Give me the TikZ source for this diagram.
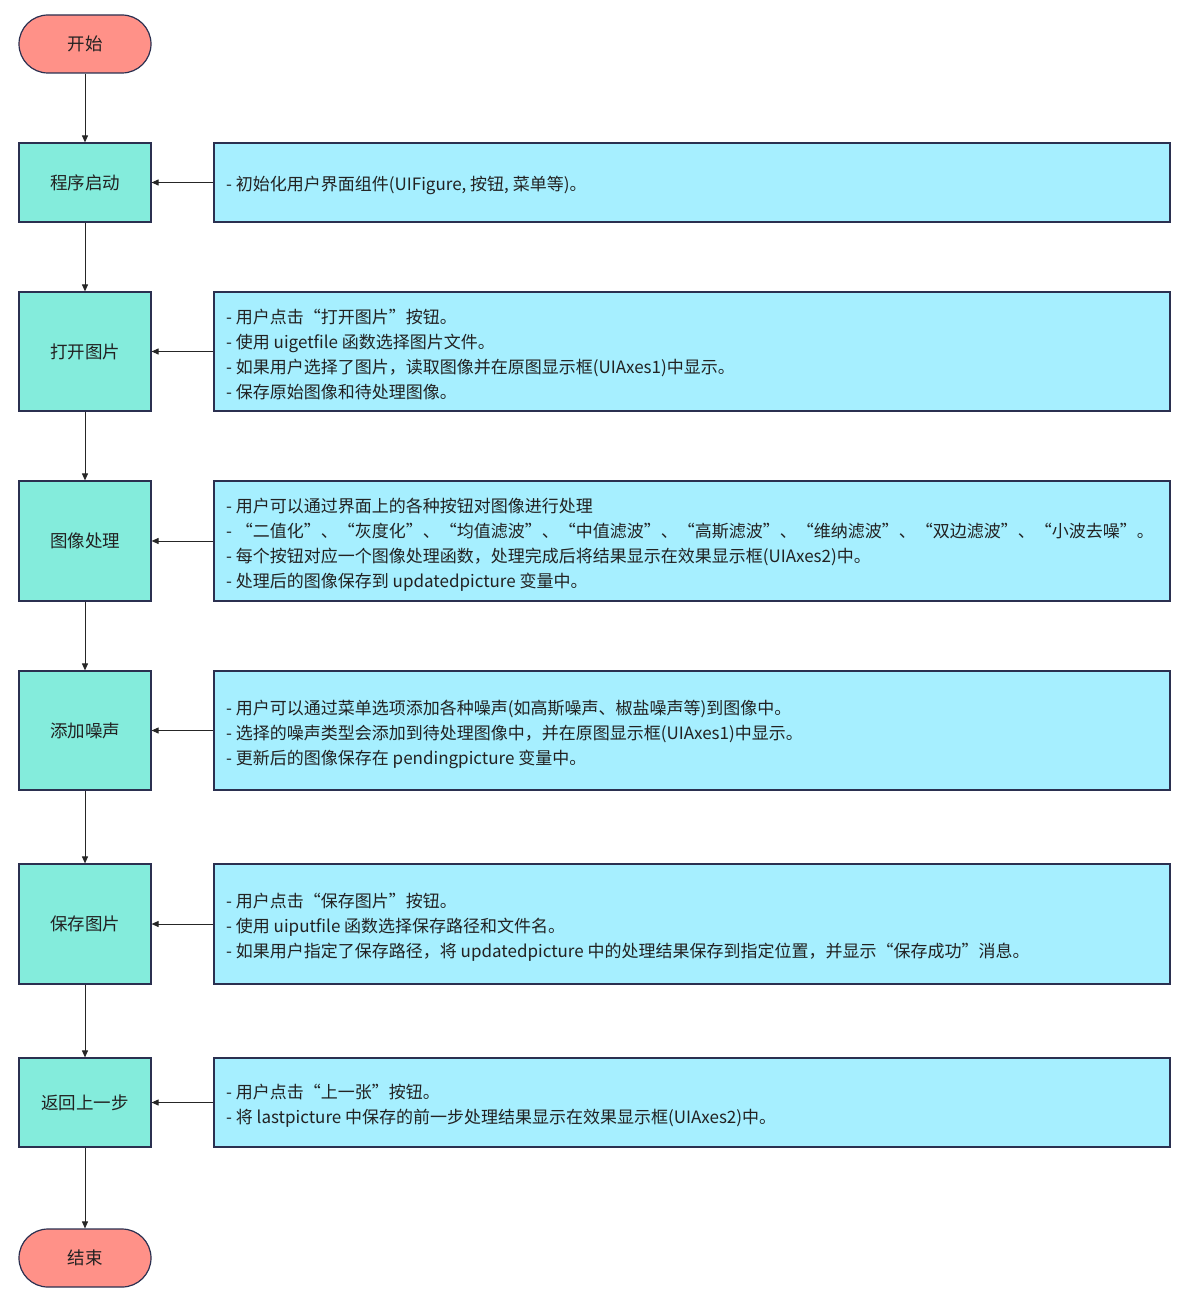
\documentclass[tikz,border=0pt]{standalone}
\usepackage{fontspec}
\setmainfont{Noto Sans CJK SC}
\usetikzlibrary{arrows.meta}
\definecolor{termfill}{HTML}{FF9188}
\definecolor{stepfill}{HTML}{84ECDC}
\definecolor{descfill}{HTML}{A6EFFF}
\definecolor{edgecol}{HTML}{2B3050}
\definecolor{txt}{HTML}{222222}
\begin{document}
\begin{tikzpicture}[x=1pt,y=-1pt,
 term/.style={draw=edgecol,fill=termfill,line width=1.2pt,rounded corners=29pt,minimum width=132pt,minimum height=58pt,font=\fontsize{17.5}{20}\selectfont,text=txt,inner sep=0pt},
 stepbox/.style={draw=edgecol,fill=stepfill,line width=1.2pt,minimum width=132pt,font=\fontsize{17.5}{20}\selectfont,text=txt,inner sep=0pt},
 descbox/.style={draw=edgecol,fill=descfill,line width=1.2pt,minimum width=956pt,inner sep=0pt},
 desctext/.style={anchor=west,align=left,font=\fontsize{17}{25}\selectfont,text=txt,inner sep=0pt},
 arr/.style={-{Triangle[length=7pt,width=6pt]},line width=1pt,draw=black!85}]
\useasboundingbox (0,0) rectangle (1190,1308);
\fill[white] (0,0) rectangle (1190,1308);
% left column
\node[term] (start) at (85,44) {开始};
\node[stepbox,minimum height=79pt] (s1) at (85,182.5) {程序启动};
\node[stepbox,minimum height=119pt] (s2) at (85,351.5) {打开图片};
\node[stepbox,minimum height=120pt] (s3) at (85,541) {图像处理};
\node[stepbox,minimum height=119pt] (s4) at (85,730.5) {添加噪声};
\node[stepbox,minimum height=120pt] (s5) at (85,924) {保存图片};
\node[stepbox,minimum height=89pt] (s6) at (85,1102.5) {返回上一步};
\node[term] (stop) at (85,1258) {结束};
% description boxes
\node[descbox,minimum height=79pt] (d1) at (692,182.5) {};
\node[descbox,minimum height=119pt] (d2) at (692,351.5) {};
\node[descbox,minimum height=120pt] (d3) at (692,541) {};
\node[descbox,minimum height=119pt] (d4) at (692,730.5) {};
\node[descbox,minimum height=120pt] (d5) at (692,924) {};
\node[descbox,minimum height=89pt] (d6) at (692,1102.5) {};
\node[desctext] (t1) at (226,185) {- 初始化用户界面组件(UIFigure, 按钮, 菜单等)。};
\node[desctext] (t2) at (226,354.5) {- 用户点击“打开图片”按钮。\\- 使用 uigetfile 函数选择图片文件。\\- 如果用户选择了图片，读取图像并在原图显示框(UIAxes1)中显示。\\- 保存原始图像和待处理图像。};
\node[desctext] (t3) at (226,544.5) {- 用户可以通过界面上的各种按钮对图像进行处理\\- “二值化”、“灰度化”、“均值滤波”、“中值滤波”、“高斯滤波”、“维纳滤波”、“双边滤波”、“小波去噪”。\\- 每个按钮对应一个图像处理函数，处理完成后将结果显示在效果显示框(UIAxes2)中。\\- 处理后的图像保存到 updatedpicture 变量中。};
\node[desctext] (t4) at (226,734) {- 用户可以通过菜单选项添加各种噪声(如高斯噪声、椒盐噪声等)到图像中。\\- 选择的噪声类型会添加到待处理图像中，并在原图显示框(UIAxes1)中显示。\\- 更新后的图像保存在 pendingpicture 变量中。};
\node[desctext] (t5) at (226,927) {- 用户点击“保存图片”按钮。\\- 使用 uiputfile 函数选择保存路径和文件名。\\- 如果用户指定了保存路径，将 updatedpicture 中的处理结果保存到指定位置，并显示“保存成功”消息。};
\node[desctext] (t6) at (226,1105.5) {- 用户点击“上一张”按钮。\\- 将 lastpicture 中保存的前一步处理结果显示在效果显示框(UIAxes2)中。};
% vertical flow
\draw[arr] (start) -- (s1);
\draw[arr] (s1) -- (s2);
\draw[arr] (s2) -- (s3);
\draw[arr] (s3) -- (s4);
\draw[arr] (s4) -- (s5);
\draw[arr] (s5) -- (s6);
\draw[arr] (s6) -- (stop);
% horizontal arrows
\draw[arr] (d1) -- (s1);
\draw[arr] (d2) -- (s2);
\draw[arr] (d3) -- (s3);
\draw[arr] (d4) -- (s4);
\draw[arr] (d5) -- (s5);
\draw[arr] (d6) -- (s6);
\end{tikzpicture}
\end{document}
